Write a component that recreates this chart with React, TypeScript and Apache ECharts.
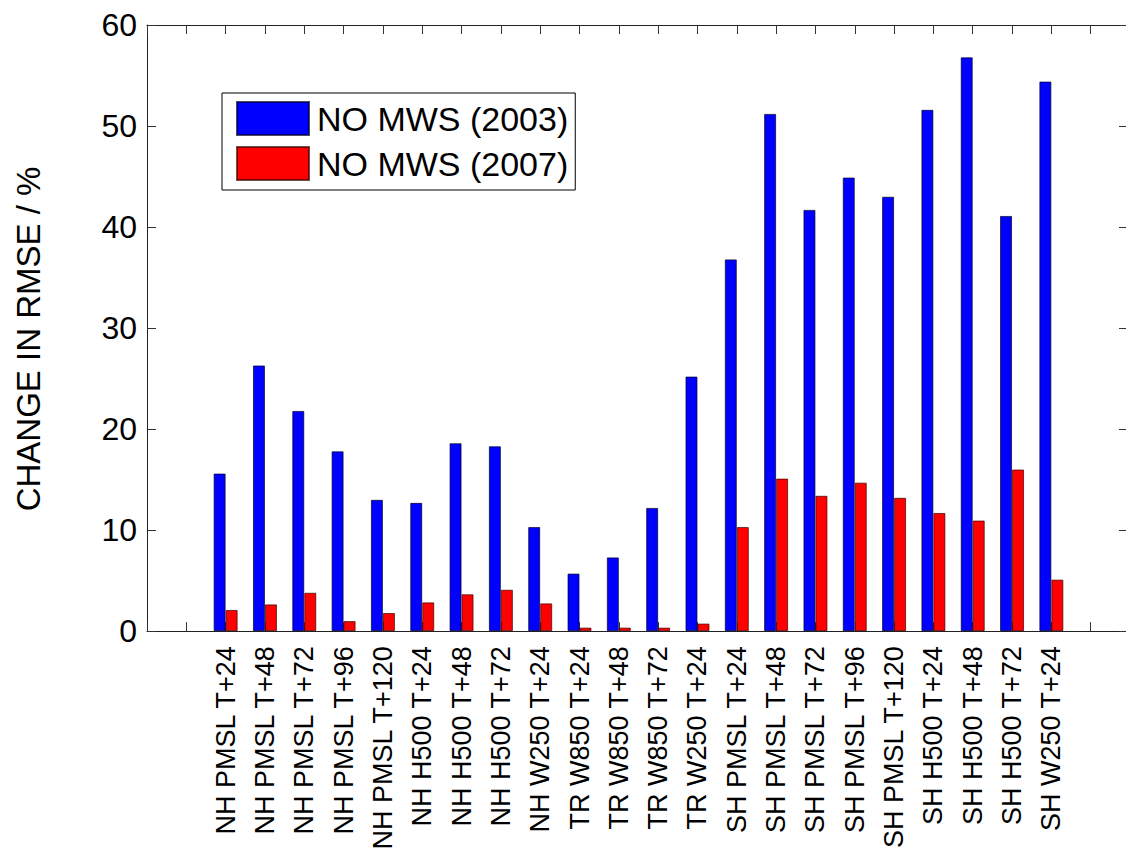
import React, { useEffect, useRef } from "react";
import * as echarts from "echarts";

const categories = [
  "NH PMSL T+24", "NH PMSL T+48", "NH PMSL T+72", "NH PMSL T+96", "NH PMSL T+120",
  "NH H500 T+24", "NH H500 T+48", "NH H500 T+72", "NH W250 T+24",
  "TR W850 T+24", "TR W850 T+48", "TR W850 T+72", "TR W250 T+24",
  "SH PMSL T+24", "SH PMSL T+48", "SH PMSL T+72", "SH PMSL T+96", "SH PMSL T+120",
  "SH H500 T+24", "SH H500 T+48", "SH H500 T+72", "SH W250 T+24",
];
const noMws2003 = [15.6, 26.3, 21.8, 17.8, 13.0, 12.7, 18.6, 18.3, 10.3, 5.7, 7.3, 12.2, 25.2, 36.8, 51.2, 41.7, 44.9, 43.0, 51.6, 56.8, 41.1, 54.4];
const noMws2007 = [2.1, 2.65, 3.8, 1.0, 1.8, 2.85, 3.65, 4.1, 2.75, 0.35, 0.35, 0.35, 0.75, 10.3, 15.1, 13.4, 14.7, 13.2, 11.7, 10.95, 16.0, 5.1];
const seriesNames = ["NO MWS (2003)", "NO MWS (2007)"];
const yAxisTitle = "CHANGE IN RMSE / %";
const yTicks = { min: 0, max: 60, interval: 10 };

const FONT = "'Liberation Sans', Arial, Helvetica, sans-serif";

export default function App() {
  const ref = useRef<HTMLDivElement>(null);
  useEffect(() => {
    if (!ref.current) return;
    const chart = echarts.init(ref.current, null, { renderer: "svg" });
    const xCommon = {
      type: "value" as const,
      min: -1,
      max: 24,
      interval: 1,
      splitLine: { show: false },
      axisLine: { show: true, onZero: false, lineStyle: { color: "#222", width: 1 } },
      axisTick: { show: true, inside: true, length: 9, lineStyle: { color: "#333" } },
    };
    const yCommon = {
      type: "value" as const,
      min: yTicks.min,
      max: yTicks.max,
      interval: yTicks.interval,
      splitLine: { show: false },
      axisLine: { show: true, onZero: false, lineStyle: { color: "#222", width: 1 } },
      axisTick: { show: true, inside: true, length: 9, lineStyle: { color: "#333" } },
    };
    chart.setOption({
      animation: false,
      backgroundColor: "#fff",
      textStyle: { fontFamily: FONT },
      grid: { left: 147, width: 983, top: 25, height: 611, containLabel: false },
      legend: {
        orient: "vertical",
        left: 222,
        top: 93,
        itemWidth: 72,
        itemHeight: 33,
        itemGap: 10,
        padding: [8, 7, 9, 14],
        borderColor: "#000",
        borderWidth: 1,
        backgroundColor: "#fff",
        icon: "rect",
        textStyle: { fontSize: 34, color: "#000", fontFamily: FONT, padding: [0, 0, 0, 3] },
        data: seriesNames,
      },
      graphic: [
        {
          type: "text",
          x: 28,
          y: 339,
          rotation: Math.PI / 2,
          style: {
            text: yAxisTitle,
            fontSize: 33,
            fontFamily: FONT,
            fill: "#000",
            textAlign: "center",
            textVerticalAlign: "middle",
          },
        },
      ],
      xAxis: [
        {
          ...xCommon,
          position: "bottom",
          axisLabel: {
            show: true,
            rotate: 90,
            fontSize: 27,
            color: "#000",
            fontFamily: FONT,
            margin: 15,
            showMinLabel: true,
            showMaxLabel: true,
            formatter: (v: number) => {
              const i = Math.round(v) - 1;
              return i >= 0 && i < categories.length ? categories[i] : "";
            },
          },
        },
        { ...xCommon, position: "top", axisLabel: { show: false } },
      ],
      yAxis: [
        {
          ...yCommon,
          position: "left",
          axisLabel: { fontSize: 32, color: "#000", margin: 10, fontFamily: FONT },
        },
        {
          ...yCommon,
          position: "right",
          axisTick: { show: true, inside: true, length: 11, lineStyle: { color: "#333" } },
          axisLabel: { show: false },
        },
      ],
      series: [
        {
          name: seriesNames[0],
          type: "bar",
          xAxisIndex: 0,
          yAxisIndex: 0,
          barWidth: 12,
          barGap: "0%",
          itemStyle: { color: "#0000ff", borderColor: "rgba(0,0,40,0.7)", borderWidth: 1 },
          data: noMws2003.map((v, i) => [i + 1, v]),
        },
        {
          name: seriesNames[1],
          type: "bar",
          xAxisIndex: 0,
          yAxisIndex: 0,
          barWidth: 12,
          barGap: "0%",
          itemStyle: { color: "#ff0000", borderColor: "rgba(60,0,0,0.7)", borderWidth: 1 },
          data: noMws2007.map((v, i) => [i + 1, v]),
        },
      ],
    });
    return () => chart.dispose();
  }, []);
  return (
    <div
      style={{
        position: "absolute",
        left: 0,
        top: 0,
        width: 1126,
        height: 854,
        overflow: "hidden",
        background: "#fff",
      }}
    >
      <div ref={ref} style={{ width: 1140, height: 854 }} />
    </div>
  );
}
